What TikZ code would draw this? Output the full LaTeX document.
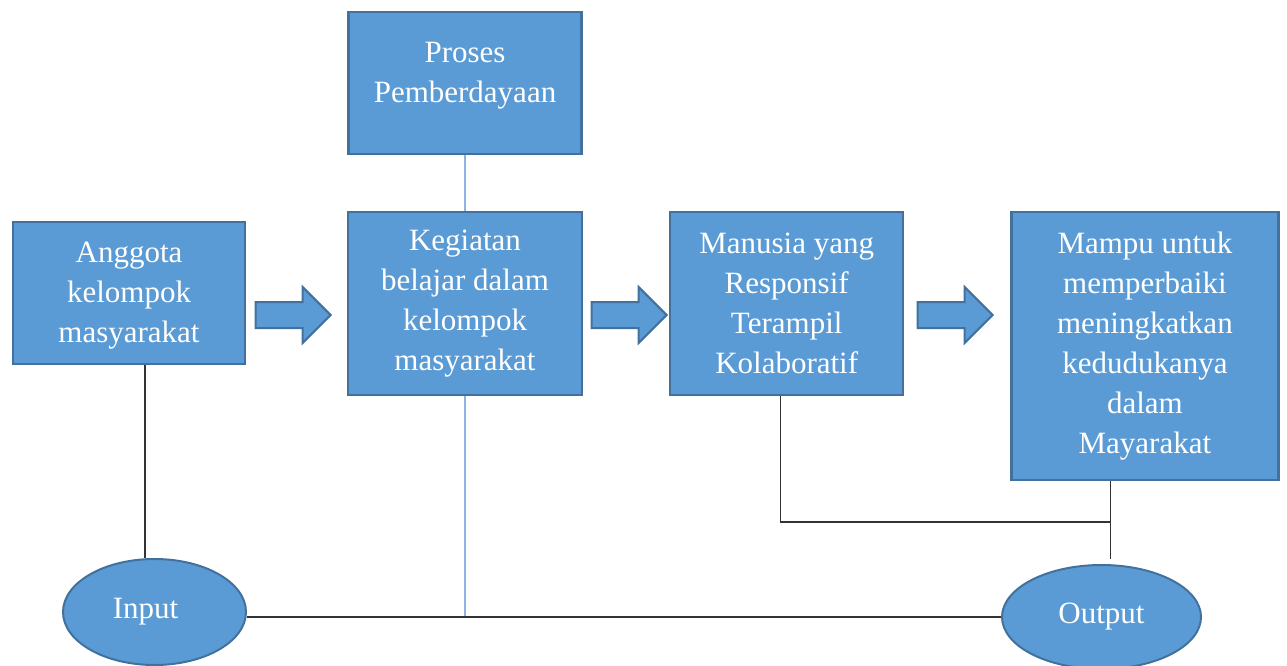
\documentclass[tikz,border=0pt]{standalone}
\usepackage{fontspec}
\setmainfont{Liberation Serif}
\usetikzlibrary{positioning, shapes.geometric, shapes.arrows}
\definecolor{colorfill}{HTML}{5B9BD5}
\definecolor{coloredge}{HTML}{41719C}
\definecolor{colorlink}{HTML}{8DB3E2}
\definecolor{colorline}{HTML}{333333}

\begin{document}
\begin{tikzpicture}[
    x=1pt, y=-1pt,
    % Blue boxes with white serif text
    box/.style={
        rectangle,
        draw=coloredge,
        fill=colorfill,
        align=center,
        line width=2.2pt,
        inner sep=4pt,
        text=white,
        font=\fontsize{31}{40}\selectfont
    },
    % Ellipses for input and output
    oval/.style={
        ellipse,
        draw=coloredge,
        fill=colorfill,
        line width=2pt,
        text=white,
        font=\fontsize{31}{40}\selectfont
    },
    % Thick block arrows between the boxes
    blockarrow/.style={
        single arrow,
        draw=coloredge,
        fill=colorfill,
        line width=2pt,
        inner xsep=0pt,
        inner ysep=12pt,
        minimum height=75pt,
        single arrow head extend=15pt,
        single arrow tip angle=90,
        anchor=tip
    },
    % Thin connector lines
    link/.style={colorline, line width=1.3pt},
    bluelink/.style={colorlink, line width=1.5pt}
]

\useasboundingbox (0,0) rectangle (1287,666);

% ==============================
% Row 1: Boxes
% ==============================
\node[box, minimum width=232pt, minimum height=142pt] (anggota) at (129,293) {
    \mbox{}\\[-14pt] Anggota \\ kelompok \\ masyarakat
};

\node[box, minimum width=234pt, minimum height=183pt] (kegiatan) at (465,303.5) {
    Kegiatan \\ belajar dalam \\ kelompok \\ masyarakat
};

\node[box, minimum width=233pt, minimum height=142pt, above=56pt of kegiatan] (proses) {
    Proses \\ Pemberdayaan \\[-20pt] \mbox{}
};

\node[box, minimum width=233pt, minimum height=183pt, right=86pt of kegiatan] (manusia) {
    Manusia yang \\ Responsif \\ Terampil \\ Kolaboratif
};

\node[box, minimum width=267pt, minimum height=268pt,
      right=106pt of manusia.north east, anchor=north west] (mampu) {
    Mampu untuk \\ memperbaiki \\ meningkatkan \\ kedudukanya \\ dalam \\ Mayarakat
};

% ==============================
% Block arrows
% ==============================
\node[blockarrow] (arrowA) at (332,315) {};
\node[blockarrow] (arrowB) at (668,315) {};
\node[blockarrow] (arrowC) at (994,315) {};

% ==============================
% Row 2: Input and output
% ==============================
\node[oval, minimum width=183pt, minimum height=106pt] (input) at (154.5,612) {Input\hspace*{18pt}};
\node[oval, minimum width=199pt, minimum height=104pt] (output) at (1101.5,617) {Output};

% ==============================
% Lines
% ==============================
\coordinate (inputtop) at ([xshift=16pt]anggota.south);
\draw[link] (inputtop) -- (inputtop |- input.north);

\draw[bluelink] (proses.south) -- (kegiatan.north);
\draw[bluelink] (kegiatan.south) -- (kegiatan.south |- output.west);

\draw[link] (input.east |- output.west) -- (output.west);

\coordinate (manusiadown) at ([xshift=-6.5pt]manusia.south);
\coordinate (mampudown) at ([xshift=-34.5pt]mampu.south);
\coordinate (joint) at (mampudown |- 0,522);
\draw[link] (manusiadown) -- (manusiadown |- joint) -- (joint);
\draw[link] (mampudown) -- ([yshift=5pt]mampudown |- output.north);

\end{tikzpicture}
\end{document}
